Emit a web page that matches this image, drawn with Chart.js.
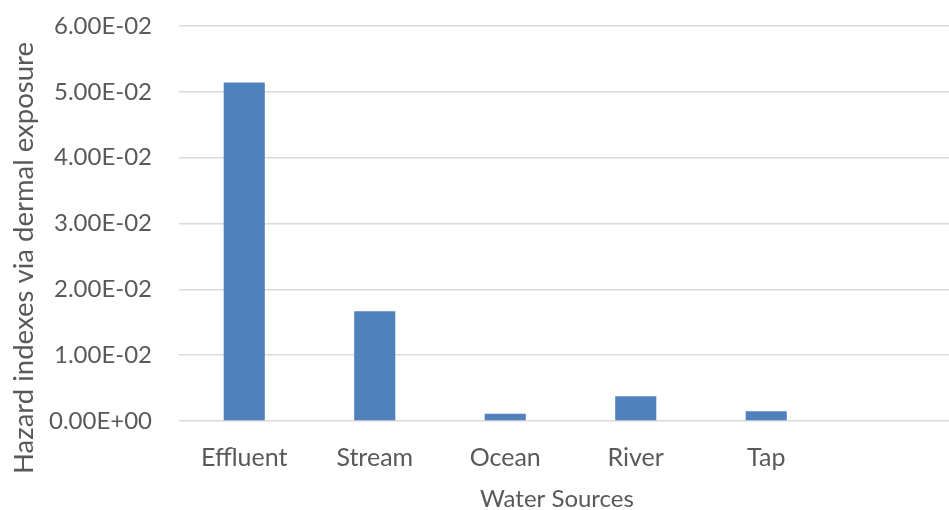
<!DOCTYPE html>
<html>
<head>
<meta charset="utf-8">
<script src="https://cdn.jsdelivr.net/npm/chart.js@4/dist/chart.umd.min.js"></script>
<style>
  html, body { margin: 0; padding: 0; background: #ffffff; overflow: hidden; }
  #wrap { width: 962px; height: 510px; position: relative; }
</style>
</head>
<body>
<div id="wrap"><canvas id="chart" width="962" height="510"></canvas></div>
<script>
// Hazard index via dermal exposure for each water source
const categories = ['Effluent', 'Stream', 'Ocean', 'River', 'Tap', ''];
const hazardIndex = [0.0514, 0.01666, 0.00112, 0.00375, 0.00147, null];
const yTickValues = [0, 0.01, 0.02, 0.03, 0.04, 0.05, 0.06];
const xTitle = 'Water Sources';
const yTitle = 'Hazard indexes via dermal exposure';

const textColor = '#595959';
const gridColor = '#d9d9d9';
const fontFamily = 'Lato, "Open Sans", sans-serif';

// Excel-style scientific label, e.g. 5.00E-02
function sci(v) {
  if (v === 0) return '0.00E+00';
  const exp = Math.floor(Math.log10(Math.abs(v)) + 1e-9);
  const mant = v / Math.pow(10, exp);
  const sign = exp < 0 ? '-' : '+';
  const e = String(Math.abs(exp)).padStart(2, '0');
  return mant.toFixed(2) + 'E' + sign + e;
}

// Axis titles placed relative to the whole plot block (labels included)
const axisTitles = {
  id: 'axisTitles',
  afterDraw(chart) {
    const ctx = chart.ctx;
    const area = chart.chartArea;
    ctx.save();
    ctx.fillStyle = textColor;
    ctx.textAlign = 'center';
    ctx.textBaseline = 'middle';
    ctx.font = '24px ' + fontFamily;
    ctx.fillText(xTitle, 557, area.bottom + 78);
    ctx.translate(24, 258);
    ctx.rotate(-Math.PI / 2);
    ctx.font = '27.5px ' + fontFamily;
    ctx.fillText(yTitle, 0, 0);
    ctx.restore();
  }
};

new Chart(document.getElementById('chart'), {
  type: 'bar',
  data: {
    labels: categories,
    datasets: [{
      data: hazardIndex,
      backgroundColor: '#4f81bd',
      borderWidth: 0,
      barPercentage: 0.63,
      categoryPercentage: 0.5
    }]
  },
  plugins: [axisTitles],
  options: {
    responsive: false,
    animation: false,
    layout: { padding: { top: 26, left: 0, right: 0, bottom: 0 } },
    plugins: { legend: { display: false }, tooltip: { enabled: false } },
    scales: {
      x: {
        grid: { display: false, drawTicks: false },
        border: { display: false },
        ticks: { color: textColor, font: { family: fontFamily, size: 25 }, padding: 22, maxRotation: 0, autoSkip: false },
        afterFit: (s) => { s.height = 89; s.paddingLeft = 0; s.paddingRight = 0; }
      },
      y: {
        min: 0,
        max: 0.06,
        afterBuildTicks: (axis) => { axis.ticks = yTickValues.map(v => ({ value: v })); },
        grid: { color: gridColor, lineWidth: 1.5, drawTicks: false },
        border: { display: false },
        ticks: { color: textColor, font: { family: fontFamily, size: 24 }, padding: 27, callback: (v) => sci(v) },
        afterFit: (s) => { s.width = 179; s.paddingTop = 0; s.paddingBottom = 0; }
      }
    }
  }
});
</script>
</body>
</html>
